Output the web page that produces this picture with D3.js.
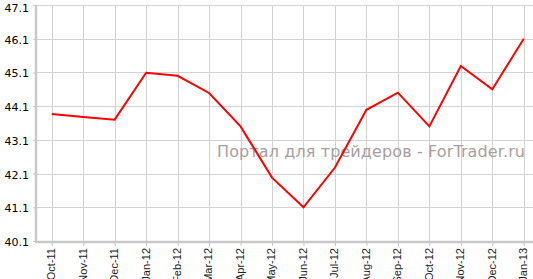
<html>
<head>
<script src="https://cdnjs.cloudflare.com/ajax/libs/d3/7.8.5/d3.min.js"></script>
<style>
  body { margin: 0; background: #fff; }
</style>
</head>
<body>
<script>
// Chart data
var months = ['Oct-11', 'Nov-11', 'Dec-11', 'Jan-12', 'Feb-12', 'Mar-12', 'Apr-12', 'May-12',
              'Jun-12', 'Jul-12', 'Aug-12', 'Sep-12', 'Oct-12', 'Nov-12', 'Dec-12', 'Jan-13'];
var values = [43.87, 43.78, 43.70, 45.09, 45.00, 44.49, 43.50, 41.98,
              41.10, 42.28, 43.99, 44.50, 43.50, 45.29, 44.60, 46.10];
var yTicks = [40.1, 41.1, 42.1, 43.1, 44.1, 45.1, 46.1, 47.1];
var watermark = 'Портал для трейдеров - ForTrader.ru';

var width = 533, height = 279;
var plotLeft = 36, plotRight = 533, plotTop = 5, plotBottom = 241;
var step = 31.47;

var svg = d3.select('body').append('svg')
    .attr('width', width)
    .attr('height', height);

var x = d3.scalePoint()
    .domain(months)
    .range([plotLeft + step / 2, plotLeft + step / 2 + step * (months.length - 1)]);

var y = d3.scaleLinear()
    .domain([40.1, 47.1])
    .range([plotBottom, plotTop]);

// grid
var grid = svg.append('g').attr('stroke', '#d2d2d2').attr('stroke-width', 1);
grid.selectAll('.h').data(yTicks).enter().append('line')
    .attr('x1', plotLeft).attr('x2', plotRight)
    .attr('y1', function(d) { return Math.round(y(d)) + 0.5; })
    .attr('y2', function(d) { return Math.round(y(d)) + 0.5; });
grid.selectAll('.v').data(months).enter().append('line')
    .attr('x1', function(d) { return Math.round(x(d)) + 0.5; })
    .attr('x2', function(d) { return Math.round(x(d)) + 0.5; })
    .attr('y1', plotTop).attr('y2', plotBottom);

// watermark
svg.append('text')
    .attr('x', 217)
    .attr('y', 157)
    .attr('fill', '#a89e9e')
    .style('font-family', 'DejaVu Sans, sans-serif')
    .style('font-size', '16px')
    .attr('textLength', 308)
    .text(watermark);

// y axis
var yAxis = svg.append('g')
    .attr('transform', 'translate(' + plotLeft + ',0)')
    .call(d3.axisLeft(y).tickValues(yTicks).tickSize(3).tickPadding(4).tickFormat(d3.format('.1f')));
yAxis.select('.domain').attr('stroke', '#c8c8c8').attr('stroke-width', 2.5)
    .attr('d', 'M0,' + plotTop + 'V' + (plotBottom + 1));
yAxis.selectAll('.tick line').attr('stroke', '#c8c8c8');
yAxis.selectAll('.tick text')
    .attr('fill', '#000')
    .style('font-family', 'DejaVu Sans, Verdana, sans-serif')
    .style('font-size', '11px')
    .attr('y', function(d) { return d === 47.1 ? 3 : 1; });

// x axis
var xAxis = svg.append('g')
    .attr('transform', 'translate(0,' + (plotBottom + 1) + ')')
    .call(d3.axisBottom(x).tickSize(4).tickSizeOuter(0));
xAxis.select('.domain').attr('stroke', '#c8c8c8').attr('stroke-width', 2.5)
    .attr('d', 'M' + (plotLeft - 1) + ',0H' + plotRight);
xAxis.selectAll('.tick line').attr('stroke', '#c8c8c8');
xAxis.selectAll('.tick text')
    .attr('fill', '#222')
    .style('font-family', 'Liberation Sans, Arial, sans-serif')
    .style('font-size', '11px')
    .attr('transform', 'rotate(-90)')
    .attr('text-anchor', 'end')
    .attr('x', -6)
    .attr('y', -1)
    .attr('dy', '0.35em');

// line
var line = d3.line()
    .x(function(d, i) { return x(months[i]); })
    .y(function(d) { return y(d); });

svg.append('path')
    .datum(values)
    .attr('fill', 'none')
    .attr('stroke', '#ff0000')
    .attr('stroke-width', 2)
    .attr('stroke-linejoin', 'miter')
    .attr('d', line);
</script>
</body>
</html>
